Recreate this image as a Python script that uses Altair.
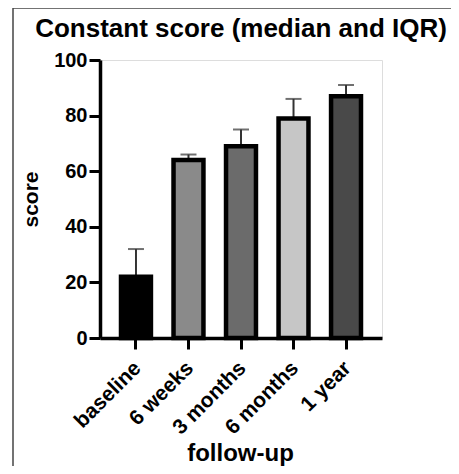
import altair as alt
import pandas as pd

categories = ["baseline", "6 weeks", "3 months", "6 months", "1 year"]
medians = [22, 64, 69, 79, 87]
upper_q = [32, 66, 75, 86, 91]
colors = ["#000000", "#8a8a8a", "#6b6b6b", "#c6c6c6", "#494949"]
y_ticks = [0, 20, 40, 60, 80, 100]

df = pd.DataFrame({"cat": categories, "median": medians, "upper": upper_q, "color": colors})

FONT = "Liberation Sans"

x = alt.X("cat:N", sort=categories, title="follow-up",
          scale=alt.Scale(paddingInner=0.43, paddingOuter=0.4),
          axis=alt.Axis(labelAngle=-45, labelFontSize=21, labelFont=FONT, labelFontWeight="bold",
                        labelColor="black", labelPadding=8, labelOffset=-6,
                        titleFontSize=24, titleFont=FONT, titleFontWeight="bold", titleColor="black",
                        titleX=140, titleY=122, titleAlign="center", titleBaseline="alphabetic",
                        domainColor="black", domainWidth=3.5, tickColor="black", tickWidth=3,
                        tickSize=11, grid=False))
y = alt.Y("median:Q", title="score",
          scale=alt.Scale(domain=[0, 100], nice=False),
          axis=alt.Axis(values=y_ticks, labelFontSize=20, labelFont=FONT, labelFontWeight="bold",
                        labelColor="black", labelPadding=2,
                        titleFontSize=21, titleFont=FONT, titleFontWeight="bold", titleColor="black",
                        titleX=-69, titleY=139, titleAngle=-90, titleAlign="center",
                        titleBaseline="middle",
                        domainColor="black", domainWidth=3.5, tickColor="black", tickWidth=3,
                        tickSize=11, grid=False))

err = alt.Chart(df).mark_rule(color="#333333", strokeWidth=2).encode(
    x=x, y=alt.Y("median:Q"), y2="upper:Q")
cap = alt.Chart(df).mark_tick(color="#333333", thickness=2, size=16).encode(
    x=alt.X("cat:N", sort=categories), y=alt.Y("upper:Q"))
bars = alt.Chart(df).mark_bar(stroke="black", strokeWidth=4.5).encode(
    x=x, y=y, fill=alt.Fill("color:N", scale=None))

frame_df = pd.DataFrame({"k": [0]})
frame_left = alt.Chart(frame_df).mark_rule(color="#444444", strokeWidth=1.5).encode(
    x=alt.value(-87), y=alt.value(-52), y2=alt.value(420))
frame_top = alt.Chart(frame_df).mark_rule(color="#444444", strokeWidth=1.5).encode(
    x=alt.value(-87), x2=alt.value(400), y=alt.value(-52))

chart = alt.layer(err, cap, bars, frame_left, frame_top).properties(
    width=282, height=278,
    title=alt.TitleParams("Constant score (median and IQR)", fontSize=26, font=FONT,
                          fontWeight="bold", color="black", anchor="middle", offset=-35),
    autosize=alt.AutoSizeParams(type="none"),
    padding={"left": 92, "top": 52, "right": 69, "bottom": 128},
).configure_view(stroke=None).configure(background="white")

chart.save("out.html", embed_options={"renderer": "svg", "actions": False})
